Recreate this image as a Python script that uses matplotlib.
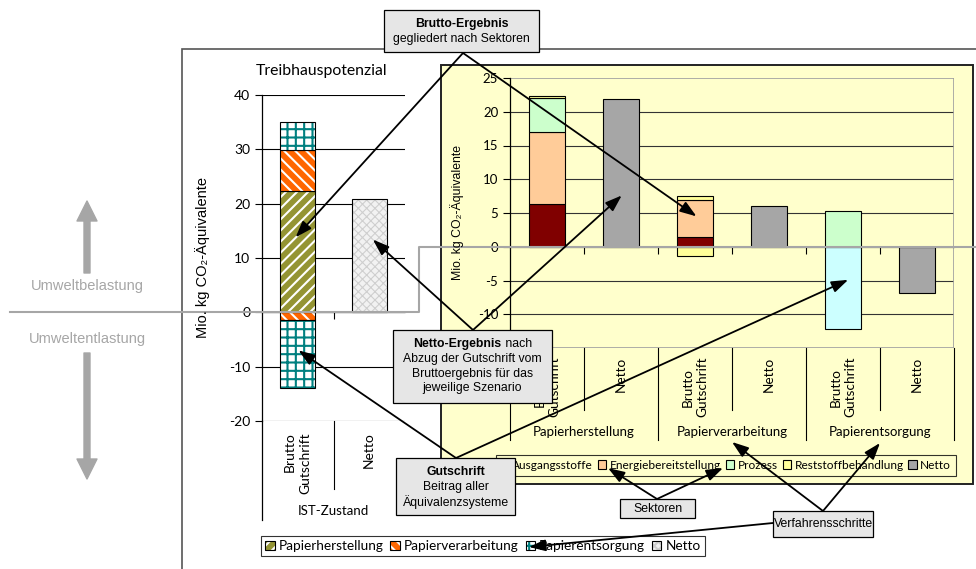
import matplotlib.pyplot as plt
from matplotlib.patches import Rectangle, Patch, ConnectionPatch, FancyArrowPatch
from matplotlib.lines import Line2D

plt.rcParams['hatch.linewidth'] = 1.5
plt.rcParams['axes.unicode_minus'] = False

# IST-Zustand, split by process step
steps = ['Papierherstellung', 'Papierverarbeitung', 'Papierentsorgung']
ist_brutto = [22.3, 7.5, 5.2]
ist_gutschrift = [0.0, -1.5, -12.5]
ist_netto = [20.8]
ist_labels = ['Brutto\nGutschrift', 'Netto']
left_ticks = [-20, -10, 0, 10, 20, 30, 40]

# scenarios per process step, split by sector
sectors = ['Ausgangsstoffe', 'Energiebereitstellung', 'Prozess', 'Reststoffbehandlung']
ausgangsstoffe = [6.3, 1.4, 0.0]
energie = [10.7, 5.6, 0.0]
prozess = [5.1, 0.0, 5.3]
reststoff = [0.2, 0.5, 0.0]
reststoff_gutschrift = [0.0, -1.3, 0.0]
entsorgung_gutschrift = [0.0, 0.0, -12.2]
netto = [21.9, 6.1, -6.9]
bar_labels = ['Brutto\nGutschrift', 'Netto'] * 3
right_ticks = [-10, -5, 0, 5, 10, 15, 20, 25]

W, H = 976, 569
CHART = ['Lato', 'DejaVu Sans']
BOX = ['Liberation Sans', 'DejaVu Sans']


def fx(x):
    return x / W


def fy(y):
    return 1 - y / H


fig = plt.figure(figsize=(W / 100, H / 100), dpi=100)

# frames behind the charts
fig.add_artist(Rectangle((fx(182), fy(575)), fx(990) - fx(182), fy(49) - fy(575),
                         transform=fig.transFigure, fill=False, edgecolor='#555555',
                         lw=1.2, zorder=-2))
fig.add_artist(Rectangle((fx(441), fy(484)), fx(973) - fx(441), fy(65) - fy(484),
                         transform=fig.transFigure, facecolor='#FFFFCC',
                         edgecolor='#222222', lw=1.4, zorder=-1))

# ---------- left chart: IST-Zustand ----------
ax1 = fig.add_axes([fx(262), fy(421), (405 - 262) / W, (421 - 95) / H])
ax1.set_facecolor('none')
ax1.set_xlim(-0.5, 1.5)
ax1.set_ylim(-20, 40)
ax1.set_yticks(left_ticks)
ax1.yaxis.grid(True, color='black', lw=0.8)
ax1.set_axisbelow(True)
for s in ['top', 'right']:
    ax1.spines[s].set_visible(False)
ax1.spines['bottom'].set_position(('data', 0))
ax1.spines['left'].set_linewidth(0.9)
ax1.set_xticks([0.5])
ax1.set_xticklabels([])
ax1.tick_params(axis='x', direction='out', length=5, width=0.8)
ax1.tick_params(axis='y', direction='out', length=5, width=0.8, labelsize=10)
for t in ax1.get_yticklabels():
    t.set_family(CHART)

step_styles = [
    dict(color='#949433', edgecolor='white', hatch='///'),
    dict(color='#FF6600', edgecolor='white', hatch='\\\\\\'),
    dict(color='white', edgecolor='#008080', hatch='++'),
]
netto_style = dict(color='#F2F2F2', edgecolor='#CFCFCF', hatch='xxxx')
bw1 = 0.49


def hatched_bar(ax, x, h, bottom, style, hatch_lw=1.5):
    with plt.rc_context({'hatch.linewidth': hatch_lw}):
        ax.bar(x, h, bw1, bottom=bottom, lw=0, **style)
    ax.bar(x, h, bw1, bottom=bottom, fill=False, edgecolor='black', lw=0.8)


bottom = 0
for v, st in zip(ist_brutto, step_styles):
    hatched_bar(ax1, 0, v, bottom, st)
    bottom += v
bottom = 0
for v, st in zip(ist_gutschrift, step_styles):
    if v:
        hatched_bar(ax1, 0, v, bottom, st)
        bottom += v
hatched_bar(ax1, 1, ist_netto[0], 0, netto_style, hatch_lw=0.8)

xt1 = ax1.get_xaxis_transform()
ax1.plot([-0.5, -0.5], [0, -0.304], transform=xt1, clip_on=False, color='black', lw=0.9)
ax1.plot([0.5, 0.5], [0, -0.209], transform=xt1, clip_on=False, color='black', lw=0.8)
for i, lab in enumerate(ist_labels):
    ax1.text(i, -0.034, lab, transform=xt1, rotation=90, ha='center', va='top',
             multialignment='right', fontsize=10, family=CHART, linespacing=1.4)
ax1.text(0.5, -0.276, 'IST-Zustand', transform=xt1, ha='center', va='center',
         fontsize=9.5, family=CHART)
fig.text(fx(322), fy(71), 'Treibhauspotenzial', ha='center', va='center',
         fontsize=11.3, family=CHART)
fig.text(fx(203), fy(257), 'Mio. kg CO₂-Äquivalente', rotation=90, ha='center',
         va='center', fontsize=10.5, family=BOX)

step_handles = []
for st in step_styles + [netto_style]:
    with plt.rc_context({'hatch.linewidth': 1.5 if st is not netto_style else 0.8}):
        face = Patch(facecolor=st['color'], edgecolor=st['edgecolor'], hatch=st['hatch'], lw=0)
    step_handles.append((face, Patch(fill=False, edgecolor='black', lw=0.8)))
leg1 = fig.legend(step_handles, steps + ['Netto'], loc='upper left',
                  bbox_to_anchor=(fx(261), fy(536)), ncol=4, frameon=True, fancybox=False,
                  prop={'family': CHART, 'size': 9.8}, handlelength=0.7, handleheight=0.7,
                  handletextpad=0.3, columnspacing=0.5, borderpad=0.3, borderaxespad=0)
leg1.get_frame().set_edgecolor('black')
leg1.get_frame().set_linewidth(0.8)
leg1.set_zorder(3)

# ---------- right chart: per process step ----------
ax2 = fig.add_axes([fx(510), fy(348), (954 - 510) / W, (348 - 78) / H])
ax2.set_facecolor('#FFFFCC')
ax2.set_xlim(-0.5, 5.5)
ax2.set_ylim(-15, 25)
ax2.set_yticks(right_ticks)
for v in right_ticks:
    if v not in (0, right_ticks[-1]):
        ax2.axhline(v, color='#333333', lw=0.8, zorder=0.5)
for s in ['top', 'right']:
    ax2.spines[s].set_visible(False)
ax2.spines['bottom'].set_position(('data', 0))
ax2.spines['left'].set_linewidth(0.9)
ax2.add_patch(Rectangle((0, 0), 1, 1, transform=ax2.transAxes, fill=False,
                        edgecolor='#A0A0A0', lw=1.2, zorder=0.6))
ax2.set_xticks([0.5, 1.5, 2.5, 3.5, 4.5])
ax2.set_xticklabels([])
ax2.tick_params(axis='x', direction='out', length=5, width=0.8)
ax2.tick_params(axis='y', direction='out', length=5, width=0.8, labelsize=9.5)
for t in ax2.get_yticklabels():
    t.set_family(CHART)

sector_colors = ['#800000', '#FFCC99', '#CCFFCC', '#FFFF99']
bw2 = 0.48
pos_b = [0, 2, 4]
pos_n = [1, 3, 5]
bottom = [0.0, 0.0, 0.0]
for vals, col in zip([ausgangsstoffe, energie, prozess, reststoff], sector_colors):
    for p, b, v in zip(pos_b, bottom, vals):
        if v:
            ax2.bar(p, v, bw2, bottom=b, color=col, edgecolor='black', lw=0.8, zorder=2)
    bottom = [b + v for b, v in zip(bottom, vals)]
for vals, col in [(reststoff_gutschrift, '#FFFF99'), (entsorgung_gutschrift, '#CCFFFF')]:
    for p, v in zip(pos_b, vals):
        if v:
            ax2.bar(p, v, bw2, color=col, edgecolor='black', lw=0.8, zorder=2)
ax2.bar(pos_n, netto, bw2, color='#A6A6A6', edgecolor='black', lw=0.8, zorder=2)

xt2 = ax2.get_xaxis_transform()
for x in [-0.5, 1.5, 3.5, 5.5]:
    ax2.plot([x, x], [0, -0.341], transform=xt2, clip_on=False, color='black', lw=0.8)
for x in [0.5, 2.5, 4.5]:
    ax2.plot([x, x], [0, -0.23], transform=xt2, clip_on=False, color='black', lw=0.8)
for i, lab in enumerate(bar_labels):
    ax2.text(i, -0.033, lab, transform=xt2, rotation=90, ha='center', va='top',
             multialignment='center', fontsize=9.8, family=CHART, linespacing=1.25)
for i, st in enumerate(steps):
    ax2.text(2 * i + 0.5, -0.311, st, transform=xt2, ha='center', va='center',
             fontsize=9.5, family=CHART)
fig.text(fx(457), fy(212), 'Mio. kg CO₂-Äquivalente', rotation=90, ha='center',
         va='center', fontsize=8.8, family=BOX)

sector_handles = [Patch(facecolor=c, edgecolor='black', lw=0.8) for c in sector_colors]
sector_handles.append(Patch(facecolor='#A6A6A6', edgecolor='black', lw=0.8))
leg2 = fig.legend(sector_handles, sectors + ['Netto'], loc='upper right',
                  bbox_to_anchor=(fx(956), fy(455)), ncol=5, frameon=True, fancybox=False,
                  prop={'family': CHART, 'size': 8.6}, handlelength=0.7, handleheight=0.7,
                  handletextpad=0.3, columnspacing=0.4, borderpad=0.4, borderaxespad=0)
leg2.get_frame().set_edgecolor('black')
leg2.get_frame().set_facecolor('#FFFFCC')
leg2.get_frame().set_linewidth(0.8)
leg2.set_zorder(3)

# ---------- zero line and Umwelt arrows ----------
z1 = 95 + 40 * (421 - 95) / 60
z2 = 78 + 25 * (348 - 78) / 40
fig.add_artist(Line2D([fx(10), fx(419), fx(419), fx(976)], [fy(z1), fy(z1), fy(z2), fy(z2)],
                      transform=fig.transFigure, color='#A6A6A6', lw=1.5, zorder=3))
grey_arrow = dict(arrowstyle='simple,head_length=1.0,head_width=1.0,tail_width=0.3',
                  mutation_scale=14.4, color='#A6A6A6', shrinkA=0, shrinkB=0,
                  transform=fig.transFigure, zorder=3)
fig.add_artist(FancyArrowPatch((fx(87), fy(273)), (fx(87), fy(201)), **grey_arrow))
fig.add_artist(FancyArrowPatch((fx(87), fy(353)), (fx(87), fy(479)), **grey_arrow))
fig.text(fx(87), fy(286), 'Umweltbelastung', ha='center', va='center', color='#A6A6A6',
         fontsize=10.5, family=BOX)
fig.text(fx(87), fy(339), 'Umweltentlastung', ha='center', va='center', color='#A6A6A6',
         fontsize=10.5, family=BOX)

# ---------- callouts ----------
renderer = fig.canvas.get_renderer()


def callout(x0, y0, x1, y1, lines):
    fig.add_artist(Rectangle((fx(x0), fy(y1)), fx(x1) - fx(x0), fy(y0) - fy(y1),
                             transform=fig.transFigure, facecolor='#E6E6E6',
                             edgecolor='black', lw=0.9, zorder=6))
    cx = (x0 + x1) / 2
    for y, bold, rest in lines:
        parts = []
        if bold:
            parts.append(fig.text(0, fy(y), bold, fontweight='bold', ha='left', va='center',
                                  fontsize=8.8, family=BOX, zorder=7))
        if rest:
            parts.append(fig.text(0, fy(y), (' ' if bold else '') + rest, ha='left',
                                  va='center', fontsize=8.8, family=BOX, zorder=7))
        widths = [p.get_window_extent(renderer).width for p in parts]
        x = cx - sum(widths) / 2
        for p, w in zip(parts, widths):
            p.set_x(fx(x))
            x += w


callout(384, 10, 539, 52, [(24, 'Brutto-Ergebnis', ''), (39, '', 'gegliedert nach Sektoren')])
callout(393, 330, 552, 403, [(344, 'Netto-Ergebnis', 'nach'),
                             (359, '', 'Abzug der Gutschrift vom'),
                             (374, '', 'Bruttoergebnis für das'),
                             (388, '', 'jeweilige Szenario')])
callout(396, 458, 515, 515, [(472, 'Gutschrift', ''), (487, '', 'Beitrag aller'),
                             (502, '', 'Äquivalenzsysteme')])
callout(620, 499, 695, 518, [(508.5, '', 'Sektoren')])
callout(773, 511, 873, 537, [(524, '', 'Verfahrensschritte')])

arrow_kw = dict(arrowstyle='-|>,head_length=1.0,head_width=0.35', mutation_scale=10,
                color='black', lw=1.3, shrinkA=0, shrinkB=0, zorder=5)


def pointer(src, dst, ax=None):
    cb = ax.transData if ax is not None else fig.transFigure
    if ax is None:
        dst = (fx(dst[0]), fy(dst[1]))
    fig.add_artist(ConnectionPatch((fx(src[0]), fy(src[1])), dst, coordsA=fig.transFigure,
                                   coordsB=cb, **arrow_kw))


pointer((463, 53), (-0.03, 13.8), ax1)
pointer((463, 53), (2.02, 4.5), ax2)
pointer((473, 330), (1.05, 13.4), ax1)
pointer((473, 330), (1.01, 7.6), ax2)
pointer((456, 458), (0.01, -7.0), ax1)
pointer((456, 458), (4.07, -4.9), ax2)
pointer((657, 499), (608, 468))
pointer((657, 499), (723, 468))
pointer((823, 511), (732, 442))
pointer((823, 511), (880, 443))
pointer((773, 523), (529, 547))

fig.savefig('out.png', dpi=100)
